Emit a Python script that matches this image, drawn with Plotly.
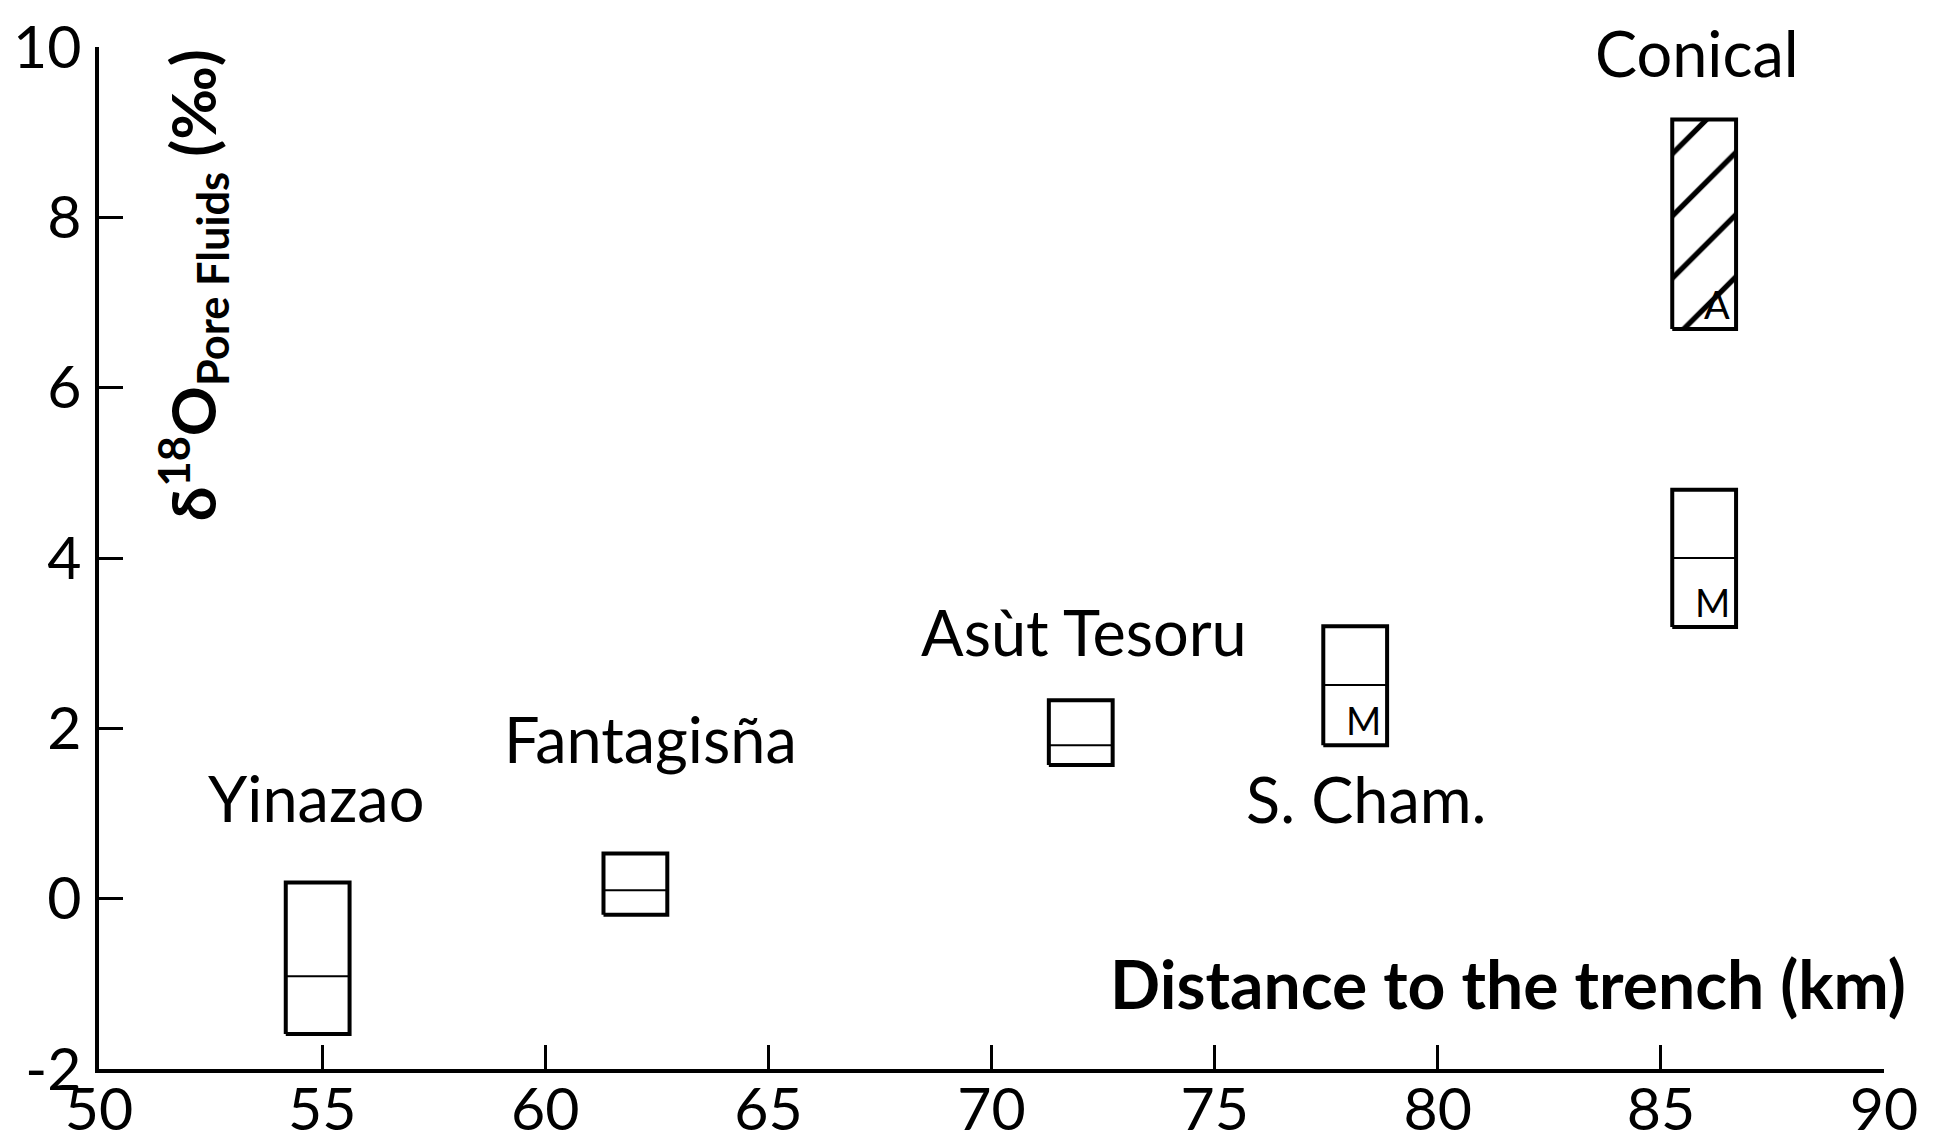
import plotly.graph_objects as go

# ---- data ----
sites = ["Yinazao", "Fantagisña", "Asùt Tesoru", "S. Cham.", "Conical", "Conical"]
site_x = [54.9, 62.02, 72.0, 78.15, 85.97, 85.97]
box_lo = [-1.59, -0.19, 1.57, 1.80, 3.19, 6.69]
box_hi = [0.19, 0.53, 2.33, 3.20, 4.80, 9.15]
box_med = [-0.91, 0.10, 1.80, 2.51, 4.00, None]
box_tag = ["", "", "", "M", "M", "A"]
hatched = [False, False, False, False, False, True]
box_width = 1.43

label_text = ["Yinazao", "Fantagisña", "Asùt Tesoru", "S. Cham.", "Conical"]
label_x = [54.86, 62.35, 72.07, 78.4, 85.8]
label_y = [1.19, 1.88, 3.14, 1.18, 9.93]

x_ticks = [50, 55, 60, 65, 70, 75, 80, 85, 90]
y_ticks = [-2, 0, 2, 4, 6, 8, 10]

FONT = "Lato"
fig = go.Figure()

for i in range(len(site_x)):
    x0 = site_x[i] - box_width / 2
    x1 = site_x[i] + box_width / 2
    xs = [x0, x1, x1, x0, x0]
    ys = [box_lo[i], box_lo[i], box_hi[i], box_hi[i], box_lo[i]]
    tr = dict(x=xs, y=ys, mode="lines", fill="toself",
              line=dict(color="black", width=4), showlegend=False,
              hoverinfo="skip")
    if hatched[i]:
        tr["fillcolor"] = "white"
        tr["fillpattern"] = dict(shape="/", fgcolor="black", bgcolor="white",
                                 fgopacity=1, size=44, solidity=0.12)
    else:
        tr["fillcolor"] = "rgba(255,255,255,0)"
    fig.add_trace(go.Scatter(**tr))
    if box_med[i] is not None:
        fig.add_trace(go.Scatter(x=[x0, x1], y=[box_med[i], box_med[i]],
                                 mode="lines", line=dict(color="black", width=2),
                                 showlegend=False, hoverinfo="skip"))
    if box_tag[i]:
        fig.add_annotation(x=x1, y=box_lo[i], xref="x", yref="y",
                           text=box_tag[i], showarrow=False,
                           xanchor="right", yanchor="bottom", xshift=-4, yshift=0,
                           font=dict(family=FONT, size=38, color="black"))

for t, lx, ly in zip(label_text, label_x, label_y):
    fig.add_annotation(x=lx, y=ly, xref="x", yref="y", text=t, showarrow=False,
                       xanchor="center", yanchor="middle",
                       font=dict(family=FONT, size=63, color="black"))

fig.add_annotation(x=90, y=-1.0, xref="x", yref="y",
                   text="<b>Distance to the trench (km)</b>", showarrow=False,
                   xanchor="right", yanchor="middle", xshift=24,
                   font=dict(family=FONT, size=66, color="black"))

fig.add_annotation(x=52.1, y=7.2, xref="x", yref="y",
                   text="<b>δ<sup>18</sup>O<sub>Pore Fluids</sub> (‰)</b>",
                   showarrow=False, textangle=-90,
                   xanchor="center", yanchor="middle",
                   font=dict(family=FONT, size=62, color="black"))

axis_common = dict(showline=True, linewidth=3.5, linecolor="black",
                   ticks="inside", tickwidth=3, tickcolor="black", ticklen=24,
                   showgrid=False, zeroline=False, automargin=False,
                   tickfont=dict(family=FONT, size=59, color="black"))

fig.update_xaxes(range=[50, 90], tickvals=x_ticks,
                 ticktext=[str(v) for v in x_ticks], ticklabelstandoff=-14,
                 **axis_common)
fig.update_yaxes(range=[-2, 10], tickvals=y_ticks,
                 ticktext=[str(v) for v in y_ticks], ticklabelstandoff=2,
                 **axis_common)

# page body adds an 8px offset; size the figure so the plot area lands where the reference has it
fig.update_layout(width=1925, height=1133,
                  margin=dict(l=91, r=49, t=39, b=72),
                  plot_bgcolor="white", paper_bgcolor="white",
                  showlegend=False)

fig.write_html("out.html")
